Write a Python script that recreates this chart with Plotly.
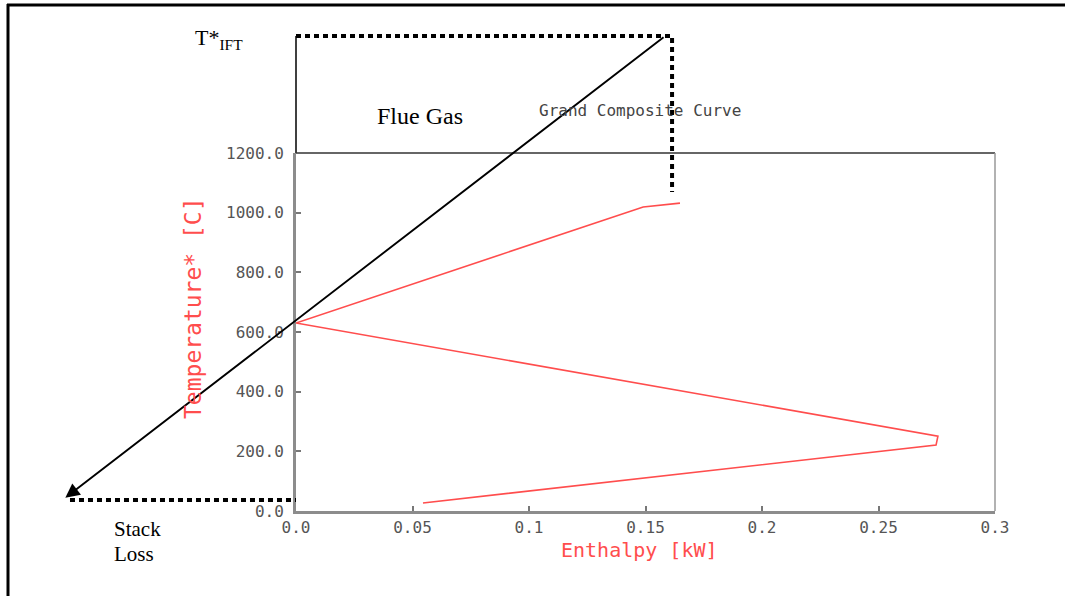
import plotly.graph_objects as go

# ---- data ----
gcc_enthalpy = [0.0545, 0.2747, 0.2755, 0.0, 0.149, 0.1648]   # kW
gcc_temperature = [27, 221, 251, 630, 1019, 1032]              # C*

fluegas_enthalpy = [0.1584, -0.099]      # flue gas line: from T*IFT down to stack
fluegas_temperature = [1592, 44]

t_ift = 1592                              # T*IFT level
gcc_top_enthalpy = 0.1614                 # vertical dotted guide
gcc_guide_bottom = 1069
stack_temperature = 37
stack_enthalpy_left = -0.097
box_top_temperature = 1200

x_ticks = [0, 0.05, 0.1, 0.15, 0.2, 0.25, 0.3]
x_ticklabels = ["0.0", "0.05", "0.1", "0.15", "0.2", "0.25", "0.3"]
y_ticks = [0, 200, 400, 600, 800, 1000, 1200]
y_ticklabels = ["0.0", "200.0", "400.0", "600.0", "800.0", "1000.0", "1200.0"]

W, H = 1065, 596
# pixel frame of the inner chart box
bx0, bx1, by_top, by_bot = 296, 995, 153, 511
xr = (0.0, 0.3)
yr = (0.0, 1200.0)
xpp = (xr[1] - xr[0]) / (bx1 - bx0)
ypp = (yr[1] - yr[0]) / (by_bot - by_top)
x2_range = [xr[0] - bx0 * xpp, xr[0] + (W - bx0) * xpp]
y2_range = [yr[0] - (H - by_bot) * ypp, yr[0] + by_bot * ypp]

RED = "#ff4d4d"
GREY = "#555555"
mono = "DejaVu Sans Mono"
serif = "Liberation Serif"

fig = go.Figure()

# grand composite curve
fig.add_trace(go.Scatter(x=gcc_enthalpy, y=gcc_temperature, mode="lines",
                         line=dict(color=RED, width=1.6), xaxis="x", yaxis="y",
                         showlegend=False, hoverinfo="skip"))

dot = dict(color="black", width=4, dash="5px,4px")
# T*IFT dotted guide and vertical dotted guide
fig.add_trace(go.Scatter(x=[0, gcc_top_enthalpy, gcc_top_enthalpy],
                         y=[t_ift, t_ift, gcc_guide_bottom], mode="lines",
                         line=dot, xaxis="x2", yaxis="y2", showlegend=False))
# stack loss dotted guide
fig.add_trace(go.Scatter(x=[stack_enthalpy_left, 0],
                         y=[stack_temperature, stack_temperature], mode="lines",
                         line=dot, xaxis="x2", yaxis="y2", showlegend=False))
# thin solid vertical from T*IFT to box top
fig.add_trace(go.Scatter(x=[0, 0], y=[t_ift, box_top_temperature], mode="lines",
                         line=dict(color="black", width=1.5), xaxis="x2", yaxis="y2",
                         showlegend=False))

annotations = [
    # flue gas arrow
    dict(x=fluegas_enthalpy[1], y=fluegas_temperature[1],
         ax=fluegas_enthalpy[0], ay=fluegas_temperature[0],
         xref="x2", yref="y2", axref="x2", ayref="y2", text="",
         showarrow=True, arrowhead=2, arrowsize=1.5, arrowwidth=1.9,
         arrowcolor="black"),
    dict(x=193 / W, y=1 - 39 / H, xref="paper", yref="paper", xanchor="left",
         yanchor="middle", showarrow=False,
         text="T*<sub>IFT</sub>", font=dict(family=serif, size=22, color="black")),
    dict(x=375 / W, y=1 - 116 / H, xref="paper", yref="paper", xanchor="left",
         yanchor="middle", showarrow=False,
         text="Flue Gas", font=dict(family=serif, size=24, color="black")),
    dict(x=537 / W, y=1 - 110 / H, xref="paper", yref="paper", xanchor="left",
         yanchor="middle", showarrow=False,
         text="Grand Composite Curve", font=dict(family=mono, size=16, color="#444444")),
    dict(x=112 / W, y=1 - 529 / H, xref="paper", yref="paper", xanchor="left",
         yanchor="middle", showarrow=False,
         text="Stack", font=dict(family=serif, size=21, color="black")),
    dict(x=112 / W, y=1 - 554 / H, xref="paper", yref="paper", xanchor="left",
         yanchor="middle", showarrow=False,
         text="Loss", font=dict(family=serif, size=21, color="black")),
    dict(x=639 / W, y=1 - 550 / H, xref="paper", yref="paper", xanchor="center",
         yanchor="middle", showarrow=False,
         text="Enthalpy [kW]", font=dict(family=mono, size=20, color=RED)),
    dict(x=193 / W, y=1 - 308 / H, xref="paper", yref="paper", xanchor="center",
         yanchor="middle", showarrow=False, textangle=-90,
         text="Temperature* [C]", font=dict(family=mono, size=23, color=RED)),
]

shapes = [
    # inner box top and right edges
    dict(type="line", xref="x domain", yref="y domain", x0=0, x1=1, y0=1, y1=1,
         line=dict(color="#333333", width=1.3)),
    dict(type="line", xref="x domain", yref="y domain", x0=1, x1=1, y0=0, y1=1,
         line=dict(color="#999999", width=1.5)),
    # page frame (top and left)
    dict(type="line", xref="paper", yref="paper", x0=7 / W, x1=1, y0=1 - 5 / H, y1=1 - 5 / H,
         line=dict(color="black", width=3)),
    dict(type="line", xref="paper", yref="paper", x0=8 / W, x1=8 / W, y0=0, y1=1 - 4 / H,
         line=dict(color="black", width=3)),
]

fig.update_layout(
    width=W, height=H,
    margin=dict(l=0, r=0, t=0, b=0),
    paper_bgcolor="white",
    plot_bgcolor="rgba(0,0,0,0)",
    showlegend=False,
    xaxis=dict(domain=[bx0 / W, bx1 / W], range=list(xr), tickvals=x_ticks,
               ticktext=x_ticklabels, ticks="inside", ticklen=5, tickwidth=1.5,
               tickcolor="#777777", showline=True, linecolor="#8c8c8c", linewidth=3,
               showgrid=False, zeroline=False, automargin=False,
               tickfont=dict(family=mono, size=16, color=GREY), anchor="y"),
    yaxis=dict(domain=[1 - by_bot / H, 1 - by_top / H], range=list(yr), tickvals=y_ticks,
               ticktext=y_ticklabels, ticks="inside", ticklen=5, tickwidth=1.5,
               tickcolor="#777777", showline=True, linecolor="#8c8c8c", linewidth=3,
               showgrid=False, zeroline=False, automargin=False,
               tickfont=dict(family=mono, size=16, color=GREY), anchor="x",
               ticklabelstandoff=6),
    xaxis2=dict(domain=[0, 1], range=x2_range, visible=False, anchor="y2", fixedrange=True),
    yaxis2=dict(domain=[0, 1], range=y2_range, visible=False, anchor="x2", fixedrange=True),
    annotations=annotations,
    shapes=shapes,
)

fig.write_html("out.html")
